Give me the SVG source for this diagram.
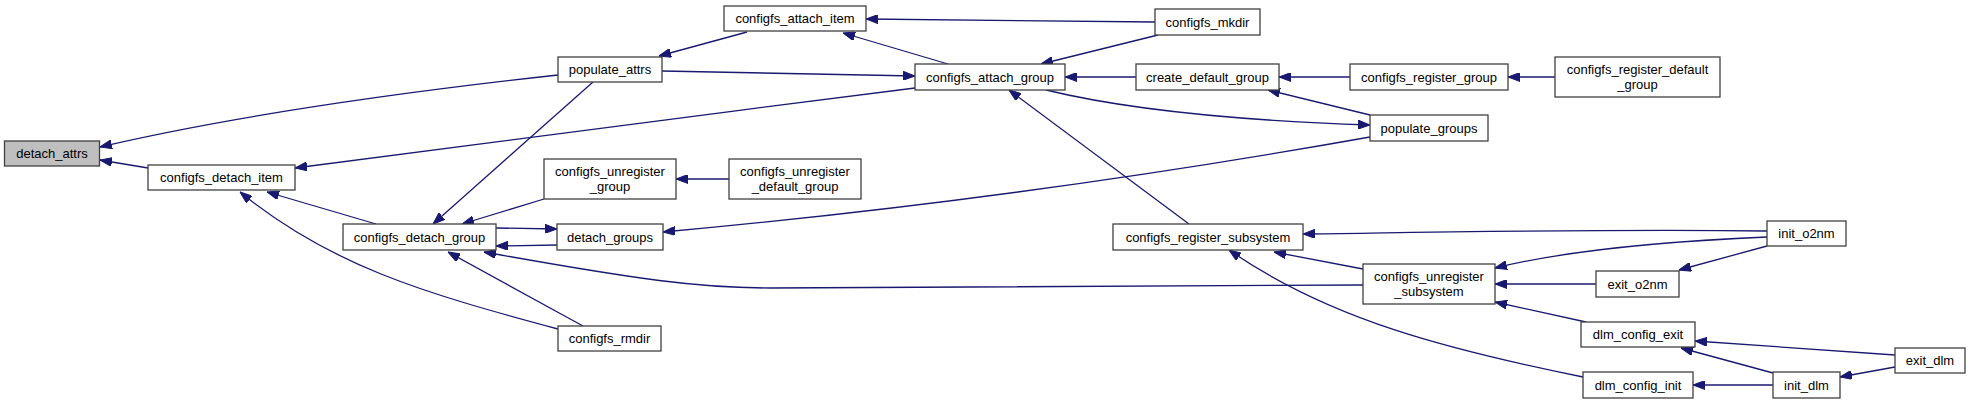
<svg xmlns="http://www.w3.org/2000/svg" width="1971" height="404" viewBox="0 0 1971 404">
<style>
.n rect{fill:#ffffff;stroke:#404040;stroke-width:1.3}
.n.root rect{fill:#bfbfbf}
.n text{font-family:"Liberation Sans",Arial,sans-serif;font-size:13px;fill:#000;text-anchor:middle}
.e path{fill:none;stroke:#191970;stroke-width:1.3;marker-end:url(#ah)}
</style>
<defs>
<marker id="ah" viewBox="0 0 12 9" refX="12" refY="4.5" markerWidth="12" markerHeight="9" markerUnits="userSpaceOnUse" orient="auto">
<path d="M0,0 L12,4.5 L0,9 z" fill="#191970" stroke="#191970" stroke-width="1"/>
</marker>
</defs>
<rect width="1971" height="404" fill="#ffffff"/>
<g id="edges" class="e">
<path d="M558,75 C440,88 250,112 100,147"/>
<path d="M148,168 L100,160"/>
<path d="M915,88 C700,115 450,148 295,168"/>
<path d="M376,224 L267,192"/>
<path d="M558,329 C420,292 330,265 240,192"/>
<path d="M593,82 L433,224"/>
<path d="M544,199 L462,224"/>
<path d="M496,228 L557,229"/>
<path d="M557,245 L496,246"/>
<path d="M1363,285 L770,288 C700,288 640,280 484,252"/>
<path d="M583,326 L448,252"/>
<path d="M1370,137 C1100,185 850,215 663,232"/>
<path d="M662,71 L915,76"/>
<path d="M747,32 L659,56"/>
<path d="M1155,22 L866,19"/>
<path d="M948,64 L843,33"/>
<path d="M1158,35 L1041,64"/>
<path d="M1136,77 L1065,77"/>
<path d="M1350,77 L1279,77"/>
<path d="M1555,77 L1508,77"/>
<path d="M1370,115 L1268,90"/>
<path d="M1046,90 C1120,108 1220,120 1370,125"/>
<path d="M1189,224 L1009,90"/>
<path d="M1767,231 C1600,229 1450,232 1303,234"/>
<path d="M1363,269 L1274,252"/>
<path d="M1583,377 C1450,350 1330,320 1229,250"/>
<path d="M1767,237 C1650,242 1560,252 1495,268"/>
<path d="M1596,284 L1495,284"/>
<path d="M1586,322 L1495,302"/>
<path d="M1767,246 L1679,270"/>
<path d="M1895,355 L1695,341"/>
<path d="M1773,373 L1681,348"/>
<path d="M1773,385 L1693,385"/>
<path d="M1895,367 L1840,377"/>
<path d="M729,179 L676,179"/>
</g>
<g id="detach_attrs" class="n root"><rect x="4.5" y="141" width="95" height="25"/><text x="52" y="158">detach_attrs</text></g>
<g id="configfs_detach_item" class="n"><rect x="148" y="165" width="147" height="25"/><text x="221.5" y="182">configfs_detach_item</text></g>
<g id="configfs_detach_group" class="n"><rect x="343" y="224" width="153" height="26"/><text x="419.5" y="241.5">configfs_detach_group</text></g>
<g id="populate_attrs" class="n"><rect x="558" y="57" width="104" height="25"/><text x="610" y="74">populate_attrs</text></g>
<g id="configfs_unregister_group" class="n"><rect x="544" y="159" width="132" height="40"/><text x="610" y="176">configfs_unregister</text><text x="610" y="191">_group</text></g>
<g id="detach_groups" class="n"><rect x="557" y="224" width="106" height="26"/><text x="610" y="241.5">detach_groups</text></g>
<g id="configfs_rmdir" class="n"><rect x="558" y="326" width="103" height="25"/><text x="609.5" y="343">configfs_rmdir</text></g>
<g id="configfs_attach_item" class="n"><rect x="724" y="6" width="142" height="25"/><text x="795" y="23">configfs_attach_item</text></g>
<g id="configfs_unregister_default_group" class="n"><rect x="729" y="159" width="132" height="40"/><text x="795" y="176">configfs_unregister</text><text x="795" y="191">_default_group</text></g>
<g id="configfs_attach_group" class="n"><rect x="915" y="64" width="150" height="26"/><text x="990" y="81.5">configfs_attach_group</text></g>
<g id="configfs_mkdir" class="n"><rect x="1155" y="9" width="105" height="26"/><text x="1207.5" y="26.5">configfs_mkdir</text></g>
<g id="create_default_group" class="n"><rect x="1136" y="64" width="143" height="26"/><text x="1207.5" y="81.5">create_default_group</text></g>
<g id="configfs_register_subsystem" class="n"><rect x="1113" y="224" width="190" height="26"/><text x="1208" y="241.5">configfs_register_subsystem</text></g>
<g id="configfs_register_group" class="n"><rect x="1350" y="64" width="158" height="26"/><text x="1429" y="81.5">configfs_register_group</text></g>
<g id="populate_groups" class="n"><rect x="1370" y="115" width="118" height="26"/><text x="1429" y="132.5">populate_groups</text></g>
<g id="configfs_unregister_subsystem" class="n"><rect x="1363" y="264" width="132" height="40"/><text x="1429" y="281">configfs_unregister</text><text x="1429" y="296">_subsystem</text></g>
<g id="configfs_register_default_group" class="n"><rect x="1555" y="57" width="165" height="40"/><text x="1637.5" y="74">configfs_register_default</text><text x="1637.5" y="89">_group</text></g>
<g id="exit_o2nm" class="n"><rect x="1596" y="271" width="83" height="26"/><text x="1637.5" y="288.5">exit_o2nm</text></g>
<g id="dlm_config_exit" class="n"><rect x="1581" y="322" width="114" height="25"/><text x="1638" y="339">dlm_config_exit</text></g>
<g id="dlm_config_init" class="n"><rect x="1583" y="372" width="110" height="26"/><text x="1638" y="389.5">dlm_config_init</text></g>
<g id="init_o2nm" class="n"><rect x="1767" y="221" width="79" height="25"/><text x="1806.5" y="238">init_o2nm</text></g>
<g id="init_dlm" class="n"><rect x="1773" y="372" width="67" height="26"/><text x="1806.5" y="389.5">init_dlm</text></g>
<g id="exit_dlm" class="n"><rect x="1895" y="348" width="70" height="25"/><text x="1930" y="365">exit_dlm</text></g>
</svg>
